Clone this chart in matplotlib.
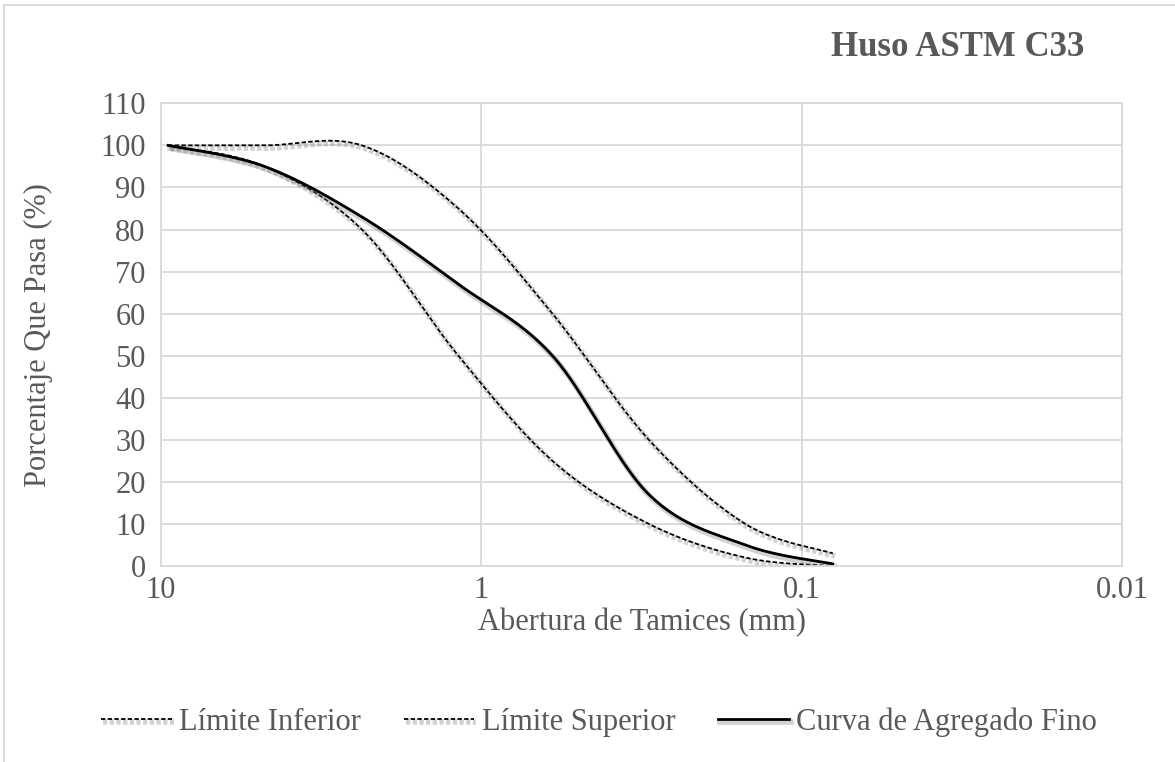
import numpy as np
import matplotlib.pyplot as plt
import matplotlib.patheffects as pe
from matplotlib.lines import Line2D
from matplotlib.ticker import FixedLocator, FixedFormatter, NullLocator

# datos del huso ASTM C33 (agregado fino)
tamices = [9.5, 4.75, 2.36, 1.18, 0.6, 0.3, 0.15, 0.08]
lim_inferior = [100, 95, 80, 50, 25, 10, 2, 0]
lim_superior = [100, 100, 100, 85, 60, 30, 10, 3]
curva_fino = [100, 95, 83, 67, 50, 17, 5, 0.5]

x_ticks = [10, 1, 0.1, 0.01]
x_labels = ["10", "1", "0.1", "0.01"]

gris = "#595959"
grid_c = "#d9d9d9"
fs = 22
plt.rcParams['font.family'] = ['Liberation Serif', 'DejaVu Serif']


# suavizado tipo Excel (Bezier Catmull-Rom en espacio de pantalla)
def suavizar(xs, ys, n=40):
    u = np.log10(xs) * 320.0
    v = np.array(ys, dtype=float) * 4.2
    P = np.column_stack([u, v])
    P = np.vstack([P[0], P, P[-1]])
    out = []
    for i in range(1, len(P) - 2):
        p0, p1, p2, p3 = P[i - 1], P[i], P[i + 1], P[i + 2]
        c1 = p1 + (p2 - p0) / 6.0
        c2 = p2 - (p3 - p1) / 6.0
        t = np.linspace(0, 1, n)[:, None]
        b = (1 - t) ** 3 * p1 + 3 * (1 - t) ** 2 * t * c1 + 3 * (1 - t) * t ** 2 * c2 + t ** 3 * p2
        out.append(b)
    out = np.vstack(out)
    return 10 ** (out[:, 0] / 320.0), out[:, 1] / 4.2


fig = plt.figure(figsize=(11.75, 7.62), dpi=100)
ax = fig.add_axes([0.137, 0.2572, 0.818, 0.6072])

sombra = [pe.SimpleLineShadow(offset=(1.5, -2), shadow_color='#808080', alpha=0.35, linewidth=4),
          pe.Normal()]

xi, yi = suavizar(tamices, lim_inferior)
ax.plot(xi, yi, color='black', lw=1.3, linestyle=(0, (2.4, 1.3)), label='Límite Inferior',
        path_effects=sombra)
xs, ys = suavizar(tamices, lim_superior)
ax.plot(xs, ys, color='black', lw=1.3, linestyle=(0, (2.4, 1.3)), label='Límite Superior',
        path_effects=sombra)
xf, yf = suavizar(tamices, curva_fino)
ax.plot(xf, yf, color='black', lw=2.0, label='Curva de Agregado Fino', path_effects=sombra)

ax.set_xscale('log')
ax.set_xlim(10, 0.01)
ax.set_ylim(0, 110)
ax.xaxis.set_major_locator(FixedLocator(x_ticks))
ax.xaxis.set_major_formatter(FixedFormatter(x_labels))
ax.xaxis.set_minor_locator(NullLocator())
ax.set_yticks(np.arange(0, 111, 10))

ax.grid(True, color=grid_c, lw=1.3)
ax.set_axisbelow(True)
for s in ax.spines.values():
    s.set_color(grid_c)
    s.set_linewidth(1.3)
ax.tick_params(length=0, labelsize=fs, labelcolor=gris)
ax.tick_params(axis='x', pad=7)
ax.tick_params(axis='y', pad=11)

ax.set_xlabel('Abertura de Tamices (mm)', fontsize=fs, color=gris, va='center')
ax.xaxis.set_label_coords(0.5, -0.123)
ax.set_ylabel('Porcentaje Que Pasa (%)', fontsize=fs, color=gris, va='center')
ax.yaxis.set_label_coords(-0.127, 0.5)

fig.text(0.815, 0.938, 'Huso ASTM C33', fontsize=25, fontweight='bold', color=gris,
         ha='center', va='center')

leg = fig.legend(loc='center', bbox_to_anchor=(0.51, 0.052), ncol=3, frameon=False,
                 fontsize=fs, handlelength=2.3, handletextpad=0.25, columnspacing=1.4)
for t in leg.get_texts():
    t.set_color(gris)

# borde del grafico
fig.add_artist(Line2D([0.0035, 1], [0.9935, 0.9935], color=grid_c, lw=1.3, transform=fig.transFigure))
fig.add_artist(Line2D([0.0035, 0.0035], [0, 0.9935], color=grid_c, lw=1.3, transform=fig.transFigure))

fig.savefig('out.png', dpi=100)
